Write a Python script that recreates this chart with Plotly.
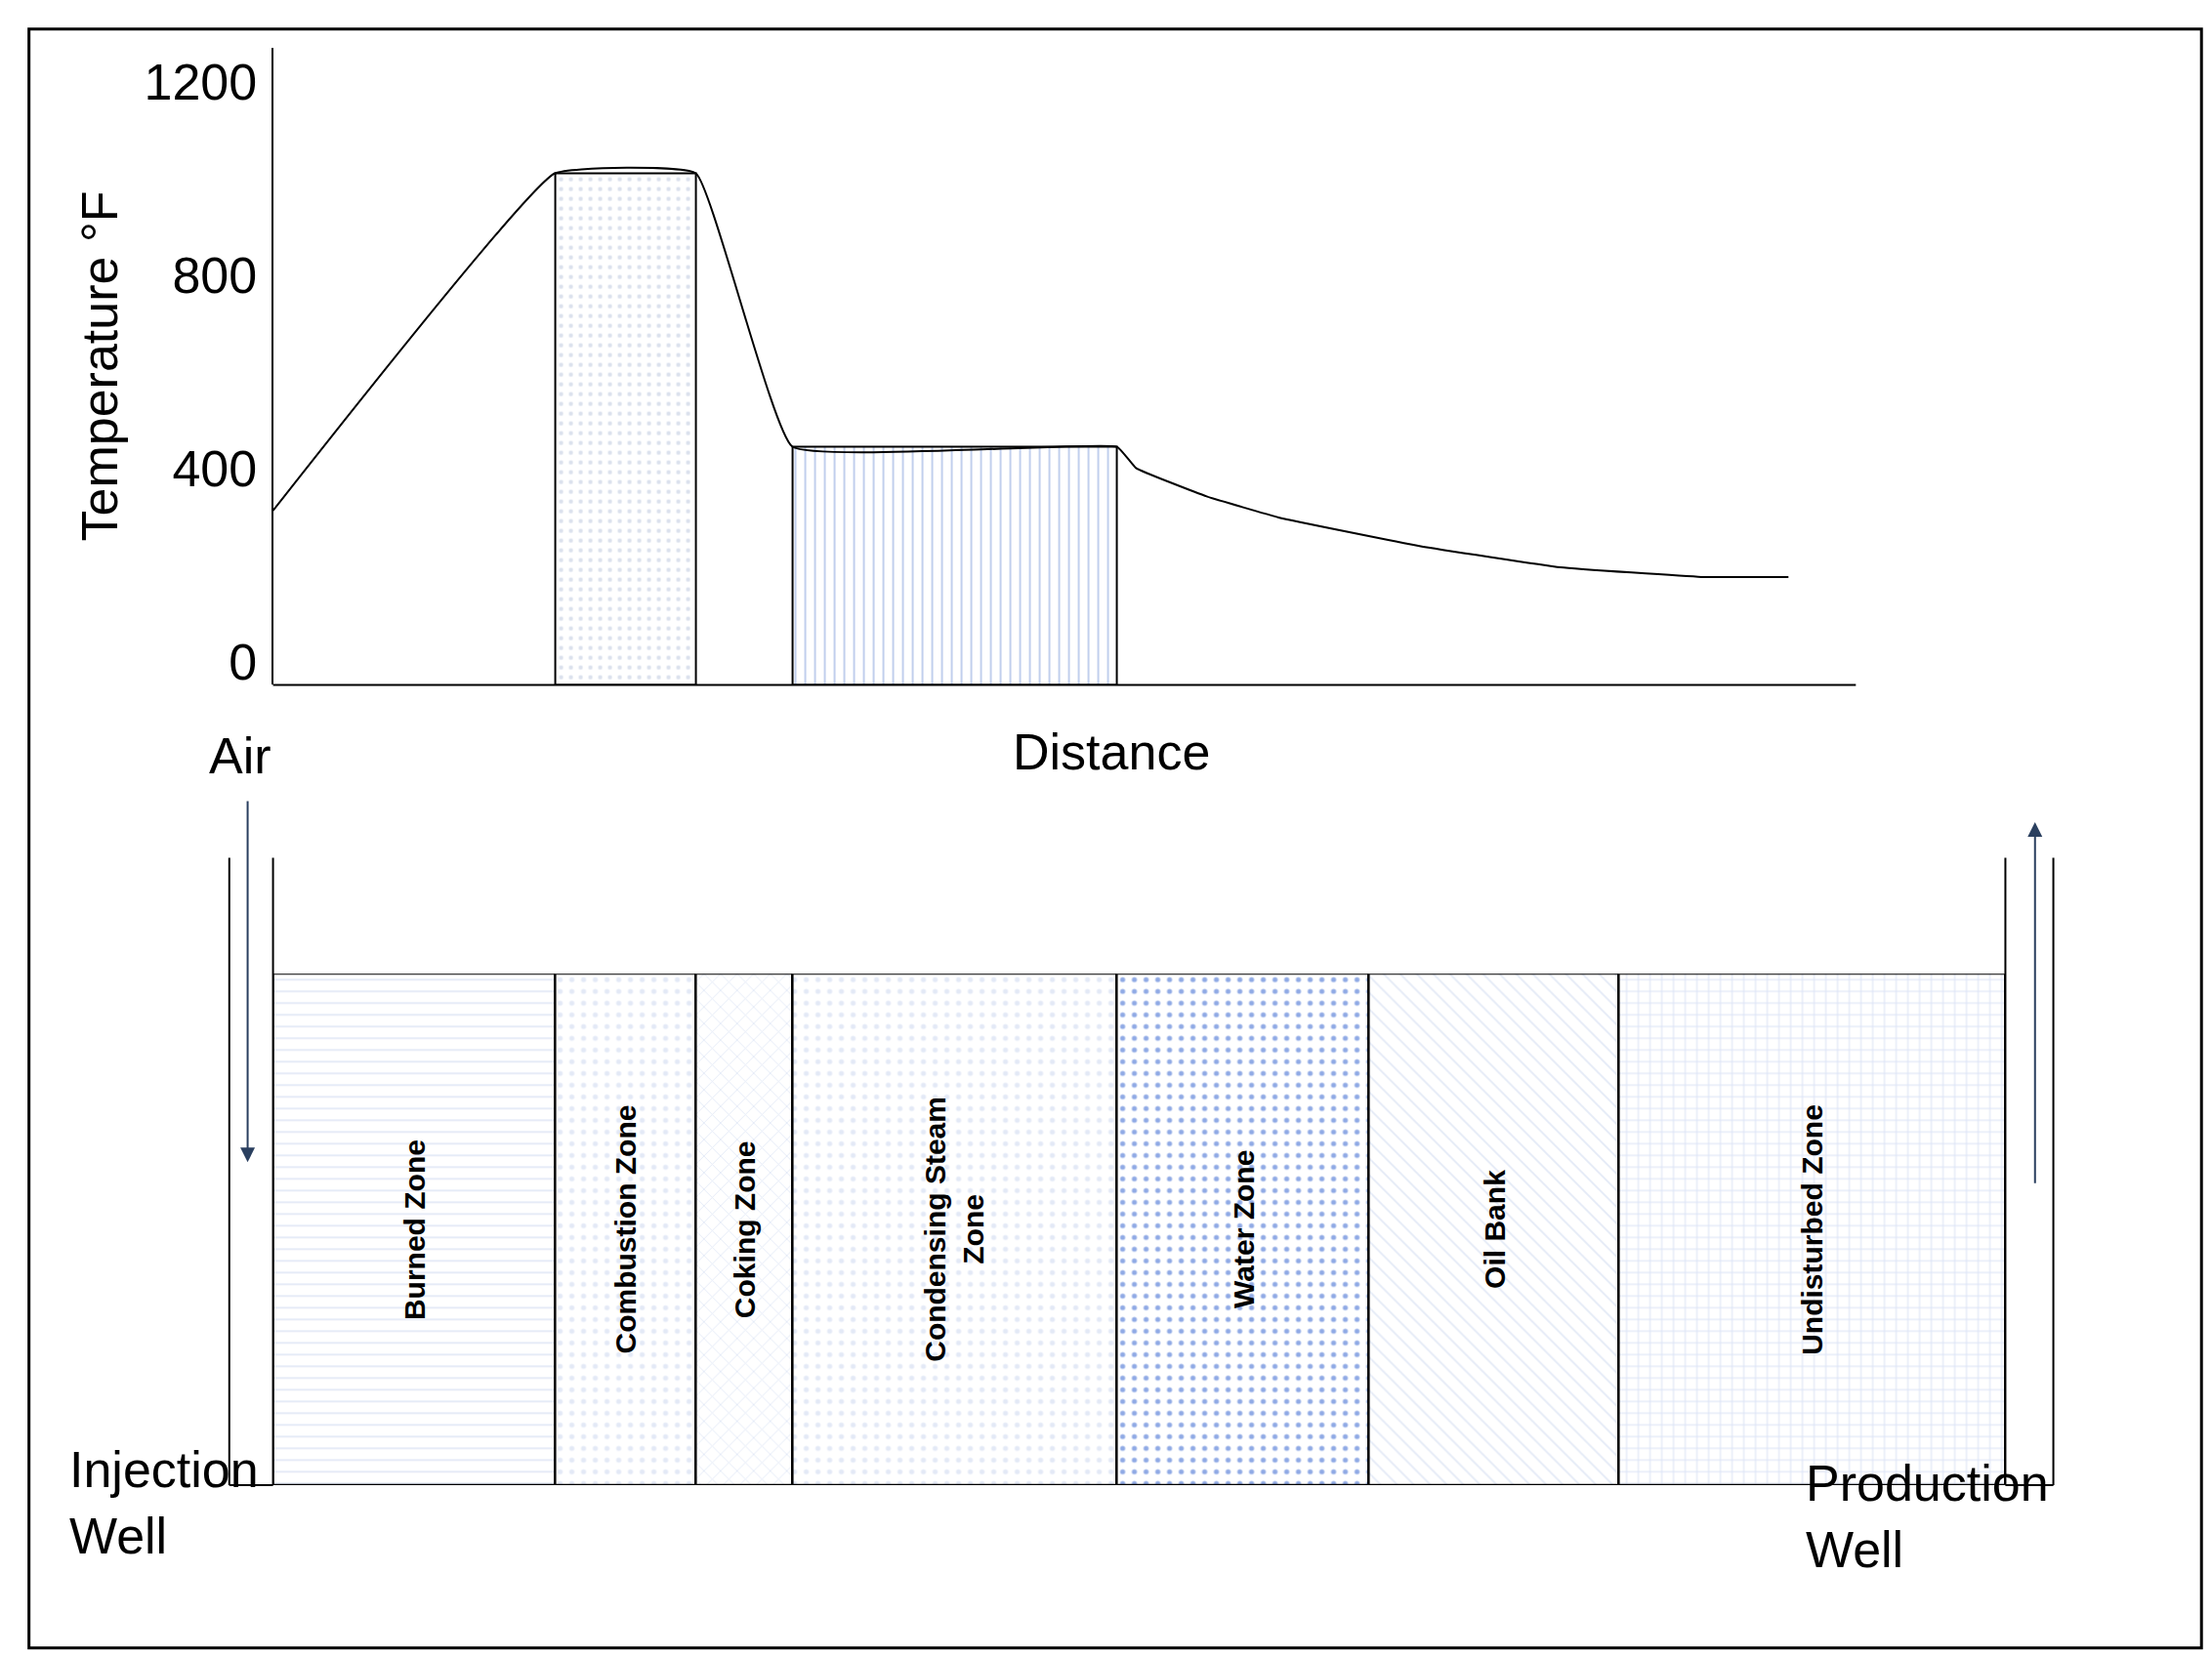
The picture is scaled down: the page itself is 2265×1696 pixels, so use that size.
import plotly.graph_objects as go

W, H = 2265, 1696
SX, SY = W / 1568, H / 1165
def px(x): return x * SX / W
def py(y): return 1 - y * SY / H

# data
prof_x = [0, 17.8, 26.7, 32.8, 53.3, 54.5, 59.0, 63.5, 72.4, 81.3, 90.2, 95.7]
prof_t = [313, 1010, 1010, 445, 445, 401, 342, 299, 240, 196, 176, 176]
zones = ["Burned Zone", "Combustion Zone", "Coking Zone", "Condensing Steam<br>Zone",
         "Water Zone", "Oil Bank", "Undisturbed Zone"]
bounds = [0, 17.8, 26.7, 32.8, 53.3, 69.2, 85.0, 109.4]
patterns = ["-", ".", "x", ".", ".", "\\", "+"]
pat_colors = ["#c8d4ee", "#c8d4ee", "#c8d4ee", "#c8d4ee", "#2255cc", "#c8d4ee", "#b0c0e8"]
peak_box = [17.8, 26.7, 1010]
steam_box = [32.8, 53.3, 445]
ticks = [0, 400, 800, 1200]
YMIN, YMAX = -47, 1270

fig = go.Figure()
for (x0, x1, t), pat, col in [(peak_box, ".", "#b8c4dc"), (steam_box, "|", "#5a7fd0")]:
    fig.add_trace(go.Bar(x=[(x0 + x1) / 2], y=[t - YMIN], base=[YMIN], width=[x1 - x0],
                         marker=dict(color="white", line=dict(color="black", width=2),
                                     pattern=dict(shape=pat, fgcolor=col, size=10, solidity=0.15)),
                         showlegend=False, hoverinfo="skip"))
fig.add_trace(go.Scatter(x=prof_x, y=prof_t, mode="lines", line=dict(color="black", width=2, shape="spline", smoothing=0.3),
                         showlegend=False))
for i, z in enumerate(zones):
    x0, x1 = bounds[i], bounds[i + 1]
    fig.add_trace(go.Bar(x=[(x0 + x1) / 2], y=[1], base=[0], width=[x1 - x0], yaxis="y2",
                         marker=dict(color="white", line=dict(color="black", width=2.5),
                                     pattern=dict(shape=patterns[i], fgcolor=pat_colors[i], size=12, solidity=0.15)),
                         showlegend=False, hoverinfo="skip"))
    fig.add_annotation(x=(x0 + x1) / 2, y=0.5, xref="x", yref="y2", text="<b>" + z + "</b>",
                       textangle=-90, showarrow=False, font=dict(size=30, family="Liberation Sans", color="black"))

fig.update_layout(
    width=W, height=H, margin=dict(l=0, r=0, t=0, b=0), plot_bgcolor="white", paper_bgcolor="white",
    bargap=0, barmode="overlay",
    xaxis=dict(domain=[px(188), px(1416)], range=[0, 109.4], showgrid=False, zeroline=False,
               showticklabels=False, ticks="", showline=False),
    yaxis=dict(domain=[py(478), py(28)], range=[YMIN, YMAX], tickvals=ticks, showgrid=False, zeroline=False,
               showline=True, linecolor="black", linewidth=2, ticks="",
               tickfont=dict(size=52, family="Liberation Sans", color="black"), ticklabelstandoff=4,
               title=dict(text="Temperature °F", font=dict(size=52, family="Liberation Sans", color="black"), standoff=10)),
    yaxis2=dict(domain=[py(1043), py(682)], range=[0, 1], visible=False),
    font=dict(family="Liberation Sans", color="black"),
)
L = dict(color="black", width=2)
shapes = [
    dict(type="rect", xref="paper", yref="paper", x0=px(15), x1=px(1555), y0=py(1158), y1=py(15), line=dict(color="black", width=3)),
    dict(type="line", xref="paper", yref="paper", x0=px(188), x1=px(1310), y0=py(478), y1=py(478), line=L),
    dict(type="line", xref="paper", yref="paper", x0=px(157), x1=px(157), y0=py(600), y1=py(1043), line=L),
    dict(type="line", xref="paper", yref="paper", x0=px(188), x1=px(188), y0=py(600), y1=py(1043), line=L),
    dict(type="line", xref="paper", yref="paper", x0=px(157), x1=px(188), y0=py(1043), y1=py(1043), line=L),
    dict(type="line", xref="paper", yref="paper", x0=px(1416), x1=px(1416), y0=py(600), y1=py(1043), line=L),
    dict(type="line", xref="paper", yref="paper", x0=px(1450), x1=px(1450), y0=py(600), y1=py(1043), line=L),
    dict(type="line", xref="paper", yref="paper", x0=px(1416), x1=px(1450), y0=py(1043), y1=py(1043), line=L),
]
fig.update_layout(shapes=shapes)
fig.add_annotation(xref="paper", yref="paper", x=px(170), y=py(815), ax=0, ay=-(815 - 560) * SY,
                   text="", showarrow=True, arrowhead=2, arrowsize=1.5, arrowwidth=2)
fig.add_annotation(xref="paper", yref="paper", x=px(1437), y=py(575), ax=0, ay=(830 - 575) * SY,
                   text="", showarrow=True, arrowhead=2, arrowsize=1.5, arrowwidth=2)
F = dict(size=52, family="Liberation Sans", color="black")
for txt, x, y, xa in [("Air", 165, 528, "center"), ("Distance", 782, 525, "center"),
                      ("Injection<br>Well", 42, 1100, "left"), ("Production<br>Well", 1273, 1110, "left")]:
    fig.add_annotation(xref="paper", yref="paper", x=px(x), y=py(y), text=txt, showarrow=False, xanchor=xa,
                       align="left", font=F)
fig.write_html("out.html")
